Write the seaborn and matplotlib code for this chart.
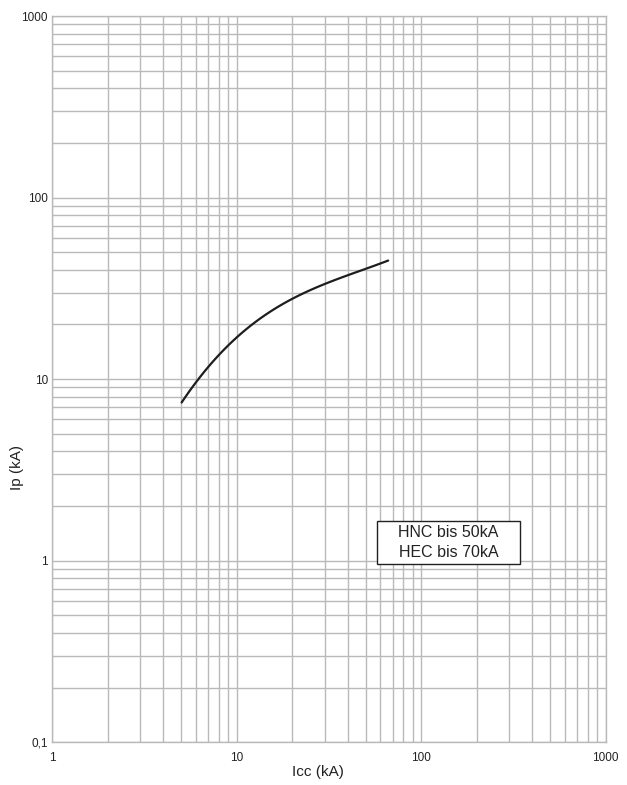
import numpy as np
import pandas as pd
import matplotlib
matplotlib.use('Agg')
import matplotlib.pyplot as plt
import seaborn as sns
from matplotlib.ticker import FixedLocator, FixedFormatter, LogLocator, NullFormatter
from matplotlib.patches import Rectangle

# Kurve Icc -> Ip
icc = [5.04, 5.95, 8.13, 13.4, 19.9, 29.5, 50.7, 66.3]
ip = [7.28, 9.69, 13.9, 21.2, 27.3, 33.7, 40.8, 44.8]

x_ticks = [1, 10, 100, 1000]
x_labels = ['1', '10', '100', '1000']
y_ticks = [0.1, 1, 10, 100, 1000]
y_labels = ['0,1', '1', '10', '100', '1000']

df = pd.DataFrame({'Icc': icc, 'Ip': ip})

sns.set_style('white')
plt.rcParams['font.family'] = ['Liberation Sans', 'DejaVu Sans']

fig = plt.figure(figsize=(6.27, 7.85), dpi=100)
ax = fig.add_axes([0.0829, 0.0544, 0.8831, 0.9252])

ax.set_xscale('log')
ax.set_yscale('log')

lx = np.log10(df['Icc'].values)
ly = np.log10(df['Ip'].values)
coef = np.polyfit(lx, ly, 3)
xs = np.linspace(lx[0], lx[-1], 100)
smooth = pd.DataFrame({'Icc': 10 ** xs, 'Ip': 10 ** np.polyval(coef, xs)})
sns.lineplot(data=smooth, x='Icc', y='Ip', color='#1e1e1e', linewidth=1.6, ax=ax)

ax.set_xlim(1, 1000)
ax.set_ylim(0.1, 1000)

ax.xaxis.set_major_locator(FixedLocator(x_ticks))
ax.xaxis.set_major_formatter(FixedFormatter(x_labels))
ax.yaxis.set_major_locator(FixedLocator(y_ticks))
ax.yaxis.set_major_formatter(FixedFormatter(y_labels))
ax.xaxis.set_minor_locator(LogLocator(base=10, subs=np.arange(2, 10)))
ax.yaxis.set_minor_locator(LogLocator(base=10, subs=np.arange(2, 10)))
ax.xaxis.set_minor_formatter(NullFormatter())
ax.yaxis.set_minor_formatter(NullFormatter())

grid_col = '#b9b9b9'
ax.grid(True, which='both', color=grid_col, linewidth=1.0)
ax.set_axisbelow(True)
ax.tick_params(which='both', length=0, labelsize=8.5, colors='#222222')
ax.tick_params(axis='x', pad=7)
ax.tick_params(axis='y', pad=3)
for s in ax.spines.values():
    s.set_color(grid_col)
    s.set_linewidth(1.0)

ax.set_xlabel('Icc (kA)', fontsize=11, color='#222222')
ax.set_ylabel('Ip (kA)', fontsize=11, color='#222222')
ax.xaxis.set_label_coords(0.4795, -0.031)
ax.yaxis.set_label_coords(-0.051, 0.379)

# Kasten mit Text
ax.add_patch(Rectangle((0.5864, 0.2451), 0.2588, 0.060, transform=ax.transAxes,
                       facecolor='white', edgecolor='#222222', linewidth=1.0, zorder=5))
ax.text(0.716, 0.275, 'HNC bis 50kA\nHEC bis 70kA', transform=ax.transAxes,
        ha='center', va='center', fontsize=11.5, color='#222222', linespacing=1.35, zorder=6)

plt.savefig('out.png', dpi=100)
